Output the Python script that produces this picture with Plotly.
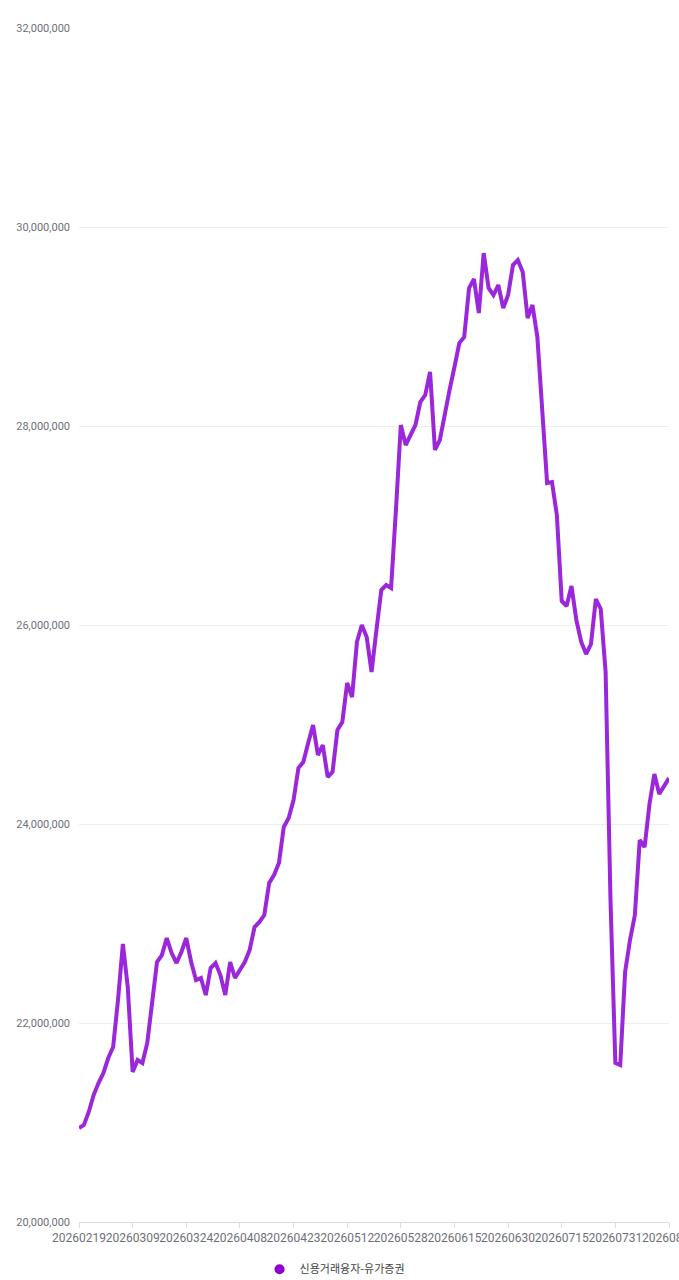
import plotly.graph_objects as go

dates = [
    "20260219", "20260220", "20260223", "20260224", "20260225", "20260226", "20260227",
    "20260303", "20260304", "20260305", "20260306", "20260309", "20260310", "20260311",
    "20260312", "20260313", "20260316", "20260317", "20260318", "20260319", "20260320",
    "20260323", "20260324", "20260325", "20260326", "20260327", "20260330", "20260331",
    "20260401", "20260402", "20260403", "20260406", "20260407", "20260408", "20260409",
    "20260410", "20260413", "20260414", "20260415", "20260416", "20260417", "20260420",
    "20260421", "20260422", "20260423", "20260424", "20260427", "20260428", "20260429",
    "20260430", "20260504", "20260506", "20260507", "20260508", "20260511", "20260512",
    "20260513", "20260514", "20260515", "20260518", "20260519", "20260520", "20260521",
    "20260522", "20260526", "20260527", "20260528", "20260529", "20260601", "20260602",
    "20260604", "20260605", "20260608", "20260609", "20260610", "20260611", "20260612",
    "20260615", "20260616", "20260617", "20260618", "20260619", "20260622", "20260623",
    "20260624", "20260625", "20260626", "20260629", "20260630", "20260701", "20260702",
    "20260703", "20260706", "20260707", "20260708", "20260709", "20260710", "20260713",
    "20260714", "20260715", "20260716", "20260720", "20260721", "20260722", "20260723",
    "20260724", "20260727", "20260728", "20260729", "20260730", "20260731", "20260803",
    "20260804", "20260805", "20260806", "20260807", "20260810", "20260811", "20260812",
    "20260813", "20260814", "20260818",
]

credit_balance = [
    20945000, 20975000, 21106000, 21276000, 21397000, 21497000, 21648000, 21759000,
    22231000, 22794000, 22362000, 21508000, 21628000, 21598000, 21799000, 22201000,
    22613000, 22683000, 22854000, 22703000, 22603000, 22714000, 22854000, 22613000,
    22432000, 22452000, 22281000, 22553000, 22603000, 22482000, 22281000, 22613000,
    22452000, 22533000, 22613000, 22734000, 22965000, 23015000, 23085000, 23407000,
    23487000, 23608000, 23970000, 24060000, 24241000, 24563000, 24623000, 24814000,
    24995000, 24693000, 24794000, 24472000, 24523000, 24945000, 25025000, 25417000,
    25276000, 25829000, 26000000, 25879000, 25528000, 25950000, 26352000, 26402000,
    26372000, 27156000, 28010000, 27809000, 27909000, 28010000, 28241000, 28311000,
    28543000, 27759000, 27859000, 28130000, 28362000, 28593000, 28834000, 28894000,
    29387000, 29477000, 29135000, 29738000, 29387000, 29316000, 29417000, 29186000,
    29316000, 29618000, 29668000, 29548000, 29085000, 29216000, 28894000, 28161000,
    27427000, 27437000, 27105000, 26241000, 26191000, 26392000, 26050000, 25829000,
    25708000, 25809000, 26261000, 26161000, 25528000, 23236000, 21598000, 21578000,
    22513000, 22834000, 23085000, 23839000, 23769000, 24201000, 24502000, 24301000,
    24392000, 24462000,
]

series_name = "신용거래융자-유가증권"
x_tick_labels = dates[::11]
y_tick_values = [20000000, 22000000, 24000000, 26000000, 28000000, 30000000, 32000000]

line_color = "#9B27DB"
legend_color = "#9400D3"

fig = go.Figure()
fig.add_trace(go.Scatter(
    x=dates, y=credit_balance, mode="lines",
    line=dict(color=line_color, width=4), name=series_name, showlegend=False,
))
fig.add_trace(go.Scatter(
    x=[None], y=[None], mode="markers",
    marker=dict(color=legend_color, size=10, symbol="circle"),
    name=series_name, showlegend=True,
))

fig.update_layout(
    width=679, height=1280,
    margin=dict(l=79, r=10, t=28, b=58, autoexpand=False),
    paper_bgcolor="white", plot_bgcolor="white",
    font=dict(family="Roboto", color="#6E7079"),
    legend=dict(
        orientation="h", x=0.306, xanchor="left", y=-0.0395, yanchor="middle",
        font=dict(family="Noto Sans CJK KR", size=11, color="#444444"),
        itemsizing="trace", bgcolor="rgba(0,0,0,0)",
    ),
)
fig.update_xaxes(
    type="category", categoryorder="array", categoryarray=dates,
    range=[0, len(dates) - 1], automargin=False,
    tickmode="array", tickvals=x_tick_labels, ticktext=x_tick_labels,
    tickangle=0, ticks="outside", ticklen=5, tickcolor="#DDDDDD",
    showline=True, linecolor="#DDDDDD", linewidth=1,
    showgrid=False, zeroline=False,
    tickfont=dict(family="Roboto", size=12, color="#6E7079"),
)
fig.update_yaxes(
    range=[20000000, 32000000], tickmode="array", tickvals=y_tick_values,
    tickformat=",d", showgrid=True, gridcolor="#EEEEEE", gridwidth=1,
    zeroline=False, showline=False, ticks="", ticklabelstandoff=8, automargin=False,
    tickfont=dict(family="Roboto", size=11, color="#6E7079"),
)

fig.write_html(
    "out.html",
    config={"displayModeBar": False},
    post_script="document.body.style.margin='0';document.body.style.overflow='hidden';",
)
